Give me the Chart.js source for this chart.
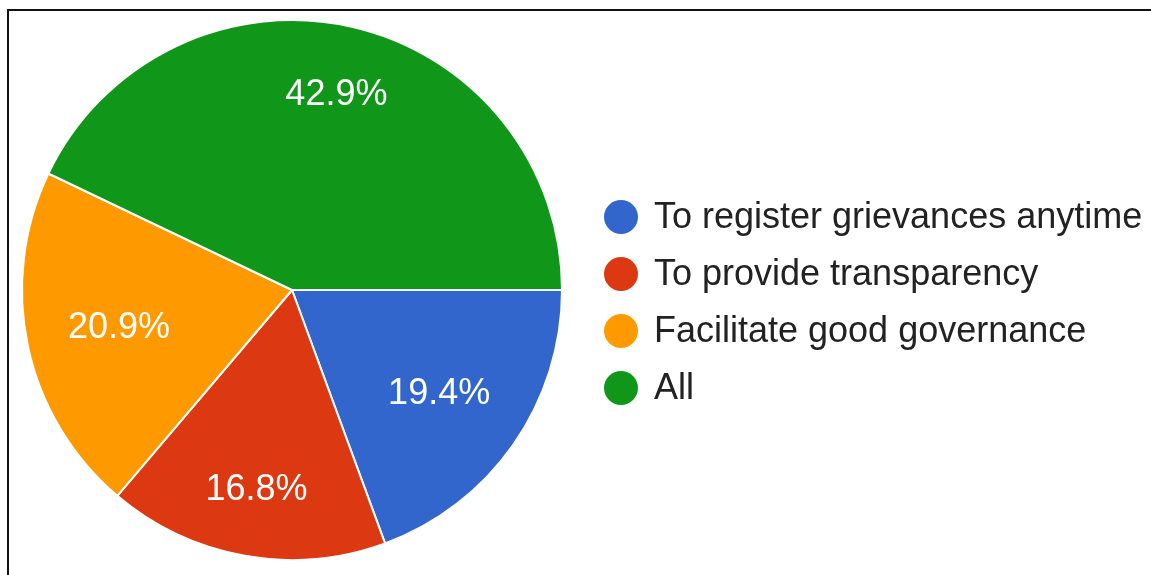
<!DOCTYPE html>
<html>
<head>
<meta charset="utf-8">
<script src="https://cdn.jsdelivr.net/npm/chart.js@4.4.1/dist/chart.umd.min.js"></script>
<style>
  html, body { margin: 0; padding: 0; background: #fff; }
  .frame {
    position: relative;
    width: 1151px;
    height: 575px;
    overflow: hidden;
  }
  .frame::before {
    content: "";
    position: absolute;
    left: 7px;
    top: 9px;
    right: -10px;
    bottom: -10px;
    border-top: 2px solid #111;
    border-left: 2px solid #111;
    pointer-events: none;
  }
  canvas { display: block; }
</style>
</head>
<body>
<div class="frame">
  <canvas id="chart" width="1151" height="575"></canvas>
</div>
<script>
const categories = [
  "To register grievances anytime",
  "To provide transparency",
  "Facilitate good governance",
  "All"
];
const shares = [19.4, 16.8, 20.9, 42.9];
const sliceColors = ["#3366cc", "#dc3912", "#ff9900", "#109618"];

const FONT = "Arial, 'Liberation Sans', sans-serif";

// percentage text inside each slice, pushed out until the far corner of the
// text box sits at 85% of the radius
const sliceLabels = {
  id: "sliceLabels",
  afterDatasetsDraw(chart) {
    const {ctx} = chart;
    const meta = chart.getDatasetMeta(0);
    ctx.save();
    ctx.font = `36px ${FONT}`;
    ctx.fillStyle = "#ffffff";
    ctx.textAlign = "center";
    ctx.textBaseline = "middle";
    meta.data.forEach((arc, i) => {
      const {x, y, startAngle, endAngle, outerRadius} = arc.getProps(
          ["x", "y", "startAngle", "endAngle", "outerRadius"], true);
      const mid = (startAngle + endAngle) / 2;
      const ux = Math.cos(mid);
      const uy = Math.sin(mid);
      const text = `${shares[i].toFixed(1)}%`;
      const hw = ctx.measureText(text).width / 2;
      const hh = 13;
      const cx = Math.sign(ux) * hw;
      const cy = Math.sign(uy) * hh;
      const r = outerRadius * 0.85;
      const dot = ux * cx + uy * cy;
      const d = -dot + Math.sqrt(dot * dot - (cx * cx + cy * cy) + r * r);
      ctx.fillText(text, x + ux * d, y + uy * d + 1);
    });
    ctx.restore();
  }
};

// legend column to the right of the pie
const sideLegend = {
  id: "sideLegend",
  afterDraw(chart) {
    const {ctx} = chart;
    const left = 621;
    const top = 217;
    const step = 57;
    ctx.save();
    ctx.font = `36px ${FONT}`;
    ctx.textBaseline = "middle";
    ctx.textAlign = "left";
    categories.forEach((name, i) => {
      const cy = top + i * step;
      ctx.beginPath();
      ctx.arc(left, cy, 17, 0, Math.PI * 2);
      ctx.fillStyle = sliceColors[i];
      ctx.fill();
      ctx.fillStyle = "#222222";
      ctx.fillText(name, left + 33, cy + 1);
    });
    ctx.restore();
  }
};

new Chart(document.getElementById("chart"), {
  type: "pie",
  data: {
    labels: categories,
    datasets: [{
      data: shares,
      backgroundColor: sliceColors,
      borderColor: "#ffffff",
      borderWidth: 2
    }]
  },
  options: {
    responsive: false,
    animation: false,
    rotation: 90,
    radius: 270,
    layout: {
      padding: {left: 22, top: 20, right: 589, bottom: 15}
    },
    plugins: {
      legend: {display: false},
      tooltip: {enabled: false}
    }
  },
  plugins: [sliceLabels, sideLegend]
});
</script>
</body>
</html>
